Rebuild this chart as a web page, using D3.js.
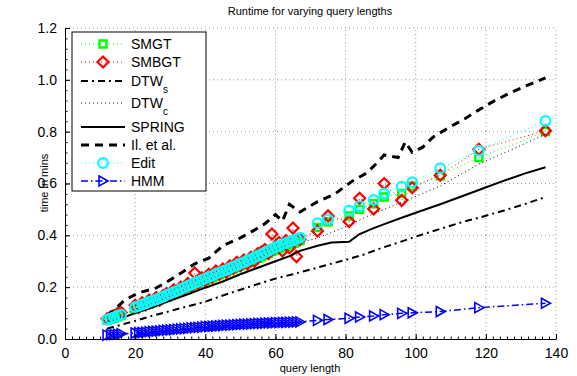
<!DOCTYPE html>
<html>
<head>
<meta charset="utf-8">
<script src="https://cdn.jsdelivr.net/npm/d3@7"></script>
<style>
  body { margin: 0; background: #fff; }
  text { font-family: "Liberation Sans", Arial, sans-serif; }
</style>
</head>
<body>
<div id="chart"></div>
<script>
// Data
const queryLen = [12,13,14,15,16,20,21,22,23,24,25,26,27,28,29,30,31,32,33,34,35,36,37,38,39,40,41,42,43,44,45,46,47,48,49,50,51,52,53,54,55,56,57,58,59,60,61,62,63,64,65,66,67,72,75,81,84,88,91,96,99,107,118,137];

const smgt = [.072,.077,.080,.086,.090,
  .117,.122,.127,.131,.137,.141,.147,.152,.157,.163,
  .168,.174,.179,.186,.190,.197,.203,.208,.214,.220,
  .226,.231,.237,.242,.248,.253,.259,.264,.270,.276,
  .282,.287,.293,.299,.305,.311,.317,.323,.330,.337,
  .343,.349,.354,.359,.364,.369,.374,.379,
  .430,.452,.475,.500,.522,.548,.562,.590,.630,.700,.800];

const smbgt = [.078,.085,.090,.098,.102,
  .130,.122,.140,.131,.150,.143,.160,.150,.168,.175,
  .168,.190,.180,.200,.192,.214,.203,.255,.215,.236,
  .226,.250,.238,.262,.250,.270,.258,.282,.272,.296,
  .283,.305,.290,.315,.300,.330,.335,.345,.330,.405,
  .356,.372,.340,.380,.352,.428,.318,.385,
  .417,.475,.453,.543,.502,.600,.535,.584,.632,.732,.804];

const edit = [.075,.080,.084,.090,.094,
  .123,.127,.133,.137,.143,.148,.152,.158,.163,.170,
  .175,.181,.186,.193,.198,.205,.210,.217,.221,.228,
  .234,.240,.244,.251,.256,.262,.266,.273,.279,.284,
  .291,.296,.303,.308,.315,.321,.327,.334,.340,.348,
  .354,.359,.366,.370,.376,.380,.386,.391,
  .447,.462,.495,.513,.537,.562,.588,.605,.659,.727,.842];

const hmm = [.015,.017,.018,.019,.020,
  .023,.024,.025,.026,.028,.029,.030,.031,.033,.034,
  .035,.036,.038,.039,.040,.041,.043,.044,.045,.046,
  .048,.048,.049,.050,.051,.052,.053,.053,.054,.055,
  .056,.057,.057,.058,.059,.060,.060,.061,.062,.062,
  .063,.063,.064,.064,.065,.065,.066,.066,
  .072,.075,.080,.085,.089,.094,.099,.101,.106,.121,.138];

// line-only series have their own query lengths
const dtwsLen = [12,16,20,25,30,35,40,45,50,55,60,65,70,75,80,85,90,95,100,107,113,118,125,131,137];
const dtws = [.040,.055,.070,.090,.108,.126,.144,.168,.190,.212,.233,.250,.268,.287,.305,.325,.350,.372,.395,.425,.450,.468,.495,.520,.548];

const dtwcLen = [12,16,20,25,30,35,40,45,50,55,60,65,67,72,79,86,91,100,107,118,128,137];
const dtwc = [.070,.090,.112,.138,.165,.192,.220,.247,.275,.302,.330,.358,.370,.390,.427,.472,.500,.550,.590,.675,.735,.790];

const springLen = [12,16,20,25,30,35,40,45,50,55,60,64,67,72,76,81,84,88,92,96,100,107,113,118,125,131,137];
const spring = [.065,.080,.100,.122,.148,.172,.198,.222,.250,.275,.300,.320,.340,.360,.372,.375,.405,.428,.448,.468,.487,.520,.550,.575,.610,.638,.663];

const ilLen = [12,14,17,21,26,30,33,37,41,45,50,54,57,60,62,64,67,72,77,82,86,89,91,95,97,99,102,105,110,114,118,122,127,131,137];
const il = [.090,.112,.150,.178,.197,.228,.254,.290,.312,.360,.390,.420,.445,.480,.455,.520,.490,.530,.560,.610,.640,.680,.710,.700,.760,.720,.740,.780,.820,.850,.884,.916,.950,.974,1.008];

const xTicks = [0,20,40,60,80,100,120,140];
const yTicks = [0,0.2,0.4,0.6,0.8,1,1.2];

const W = 577, H = 376;
const svg = d3.select("#chart").append("svg")
  .attr("width", W).attr("height", H);

const x = d3.scaleLinear().domain([0, 140]).range([65, 556]);
const y = d3.scaleLinear().domain([0, 1.2]).range([339, 28]);

// grid
const grid = svg.append("g")
  .attr("stroke", "#000").attr("stroke-opacity", 0.4)
  .attr("stroke-dasharray", "1,3").attr("stroke-width", 1);
grid.selectAll("line.v").data(xTicks.slice(1)).join("line")
  .attr("x1", d => x(d)).attr("x2", d => x(d))
  .attr("y1", y(0)).attr("y2", y(1.2));
grid.selectAll("line.h").data(yTicks.slice(1)).join("line")
  .attr("y1", d => y(d)).attr("y2", d => y(d))
  .attr("x1", x(0)).attr("x2", x(140));

// series styles
const series = [
  { name: "SMGT", xs: queryLen, ys: smgt, color: "#00ff00", width: 1, dash: "1,3", marker: "square" },
  { name: "SMBGT", xs: queryLen, ys: smbgt, color: "#ff0000", width: 1, dash: "1,3", marker: "diamond" },
  { name: "DTW", sub: "s", xs: dtwsLen, ys: dtws, color: "#000", width: 2, dash: "7,4,2,4" },
  { name: "DTW", sub: "c", xs: dtwcLen, ys: dtwc, color: "#000", width: 1, dash: "1,3" },
  { name: "SPRING", xs: springLen, ys: spring, color: "#000", width: 2, dash: null },
  { name: "Il. et al.", xs: ilLen, ys: il, color: "#000", width: 3, dash: "8,6" },
  { name: "Edit", xs: queryLen, ys: edit, color: "#00ffff", width: 1, dash: "1,3", marker: "circle" },
  { name: "HMM", xs: queryLen, ys: hmm, color: "#0000ff", width: 1.5, dash: "7,3,1.5,3", marker: "tri" }
];

const markerPath = {
  square: "M-3.5,-3.5H3.5V3.5H-3.5Z",
  diamond: "M0,-5.5L5.5,0L0,5.5L-5.5,0Z",
  circle: d3.symbol(d3.symbolCircle, 72)(),
  tri: "M-4,-5L5,0L-4,5Z"
};
const markerWidth = { square: 2.4, diamond: 2.2, circle: 2.2, tri: 1.6 };

const line = d3.line().x(d => x(d[0])).y(d => y(d[1]));

const plot = svg.append("g");
series.forEach(s => {
  const pts = s.xs.map((v, i) => [v, s.ys[i]]);
  plot.append("path")
    .attr("d", line(pts))
    .attr("fill", "none")
    .attr("stroke", s.color)
    .attr("stroke-width", s.width)
    .attr("stroke-dasharray", s.dash);
  if (s.marker) {
    plot.append("g").selectAll("path").data(pts).join("path")
      .attr("d", markerPath[s.marker])
      .attr("transform", d => `translate(${x(d[0])},${y(d[1])})`)
      .attr("fill", "none")
      .attr("stroke", s.color)
      .attr("stroke-width", markerWidth[s.marker]);
  }
});

// axes (ticks point inward)
svg.append("g").attr("transform", `translate(0,${y(0)})`)
  .call(d3.axisBottom(x).tickValues(xTicks).tickSizeInner(-5).tickSizeOuter(0).tickPadding(9));
svg.append("g").attr("transform", `translate(0,${y(0)})`)
  .call(d3.axisBottom(x).tickValues(d3.range(0, 141, 2)).tickSize(-2.5).tickFormat(""))
  .select(".domain").remove();
svg.append("g").attr("transform", `translate(${x(0)},0)`)
  .call(d3.axisLeft(y).tickValues(yTicks).tickSizeInner(-5).tickSizeOuter(0).tickPadding(8));
svg.append("g").attr("transform", `translate(${x(0)},0)`)
  .call(d3.axisLeft(y).tickValues(d3.range(0, 1.201, 0.04)).tickSize(-2.5).tickFormat(""))
  .select(".domain").remove();
svg.selectAll(".tick text").attr("font-size", 14).attr("fill", "#000")
  .style("font-family", '"Liberation Sans", Arial, sans-serif');
svg.selectAll(".domain").attr("stroke", "#000");

// titles
svg.append("text").attr("x", 310).attr("y", 15).attr("text-anchor", "middle")
  .attr("font-size", 11).text("Runtime for varying query lengths");
svg.append("text").attr("x", 310).attr("y", 372).attr("text-anchor", "middle")
  .attr("font-size", 11).text("query length");
svg.append("text").attr("transform", "translate(48,183) rotate(-90)").attr("text-anchor", "middle")
  .attr("font-size", 11).text("time in mins");

// legend
const leg = svg.append("g");
leg.append("rect").attr("x", 72).attr("y", 32).attr("width", 134).attr("height", 159)
  .attr("fill", "#fff").attr("stroke", "#000").attr("stroke-width", 1);
const rowY = [44, 62, 81, 103, 127, 145, 163, 181];
series.forEach((s, i) => {
  const ry = rowY[i];
  leg.append("line").attr("x1", 81).attr("x2", 125).attr("y1", ry).attr("y2", ry)
    .attr("stroke", s.color).attr("stroke-width", s.width).attr("stroke-dasharray", s.dash);
  if (s.marker) {
    leg.append("path").attr("d", markerPath[s.marker])
      .attr("transform", `translate(103,${ry})`)
      .attr("fill", "none").attr("stroke", s.color).attr("stroke-width", markerWidth[s.marker]);
  }
  const t = leg.append("text").attr("x", 131).attr("y", ry + 5).attr("font-size", 14).text(s.name);
  if (s.sub) t.append("tspan").attr("dy", 7).attr("font-size", 10).text(s.sub);
});
</script>
</body>
</html>
